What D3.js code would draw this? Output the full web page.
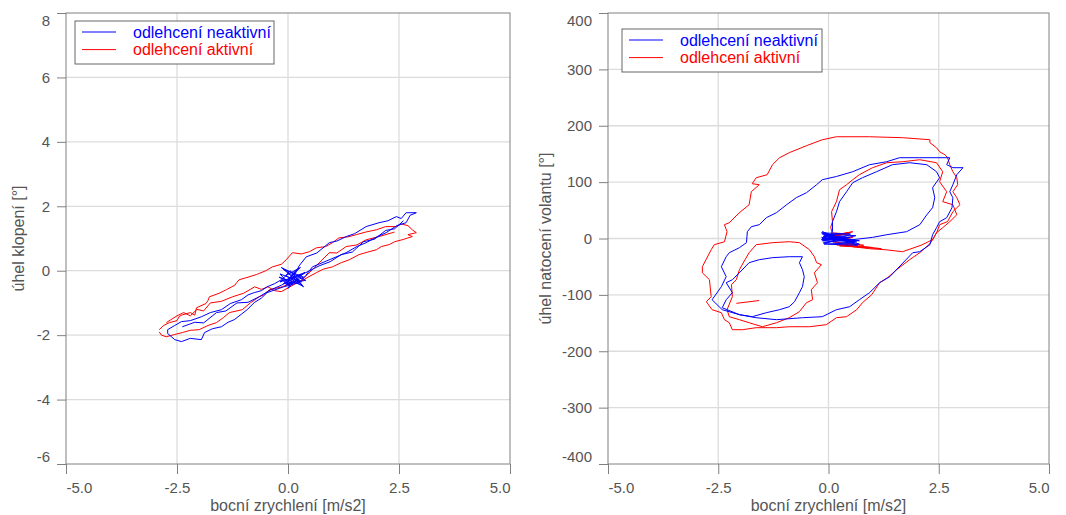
<!DOCTYPE html>
<html><head><meta charset="utf-8">
<script src="https://cdn.jsdelivr.net/npm/d3@7"></script>
<style>body{margin:0;background:#fff}svg{display:block}text{font-family:"Liberation Sans",Arial,sans-serif}</style>
</head><body><svg id="c" width="1066" height="515"></svg>
<script>
const xTicks=[-5,-2.5,0,2.5,5];
const rollTicks=[-6,-4,-2,0,2,4,6,8];
const steerTicks=[-400,-300,-200,-100,0,100,200,300,400];
const xTitle="bocní zrychlení [m/s2]";
const rollTitle="úhel klopení [°]";
const steerTitle="úhel natocení volantu [°]";
const seriesNames=["odlehcení neaktivní","odlehcení aktivní"];
const seriesColors=["#0000ff","#ff0000"];

// left: lateral acceleration vs roll angle
const rollActive=[[-2.90,-1.83],[-2.80,-1.70],[-2.67,-1.61],[-2.50,-1.55],[-2.45,-1.42],[-2.38,-1.37],[-2.20,-1.30],[-2.10,-1.38],[-2.06,-1.15],[-1.85,-1.02],[-1.80,-0.92],[-1.77,-0.81],[-1.55,-0.70],[-1.39,-0.59],[-1.20,-0.45],[-1.15,-0.36],[-1.10,-0.28],[-0.90,-0.20],[-0.71,-0.12],[-0.50,0.00],[-0.35,0.12],[-0.15,0.20],[-0.04,0.34],[0.10,0.56],[0.30,0.52],[0.48,0.59],[0.64,0.71],[0.85,0.75],[1.00,0.87],[1.15,1.02],[1.35,1.05],[1.54,1.12],[1.75,1.20],[1.99,1.27],[2.20,1.37],[2.44,1.37],[2.55,1.45],[2.70,1.40],[2.80,1.27],[2.89,1.18],[2.70,1.12],[2.80,1.06],[2.57,0.96],[2.40,0.90],[2.28,0.81],[2.10,0.75],[1.99,0.65],[1.80,0.58],[1.60,0.50],[1.38,0.34],[1.20,0.25],[1.00,0.12],[0.80,0.05],[0.64,-0.06],[0.45,-0.20],[0.25,-0.37],[0.05,-0.40],[-0.13,-0.50],[-0.42,-0.59],[-0.55,-0.75],[-0.65,-0.81],[-0.85,-1.00],[-1.03,-1.21],[-1.32,-1.30],[-1.45,-1.45],[-1.61,-1.61],[-1.80,-1.70],[-2.00,-1.83],[-2.20,-1.85],[-2.38,-1.92],[-2.55,-1.98],[-2.74,-2.05],[-2.85,-2.00],[-2.90,-1.90],
null,[-2.74,-1.61],[-2.50,-1.40],[-2.35,-1.30],[-2.20,-1.40],[-2.05,-1.20],[-1.90,-1.25],[-1.75,-1.00],[-1.50,-0.95],[-1.25,-0.81],[-1.00,-0.70],[-0.75,-0.50],[-0.60,-0.58],[-0.45,-0.50],[-0.30,-0.62],[-0.15,-0.65],[0.30,-0.30],[0.60,0.10],[0.93,0.56],[1.10,0.55],[1.31,0.75],[1.55,0.80],[1.76,0.96],[2.05,1.06],[2.40,1.20]];
const rollInactive=[[-2.71,-1.83],[-2.55,-1.70],[-2.40,-1.58],[-2.20,-1.55],[-1.95,-1.43],[-1.75,-1.30],[-1.50,-1.21],[-1.30,-1.02],[-1.05,-0.90],[-0.90,-0.75],[-0.76,-0.68],[-0.60,-0.62],[-0.47,-0.50],[-0.30,-0.40],[-0.15,-0.28],[0.05,-0.45],[-0.18,-0.10],[0.30,-0.35],[-0.10,0.05],[0.35,-0.20],[-0.05,-0.45],[0.20,0.05],[0.00,-0.30],[0.38,-0.05],[0.10,-0.40],[-0.20,-0.20],[0.32,-0.45],[-0.15,0.10],[0.40,-0.30],[-0.10,-0.40],[0.28,0.10],[-0.05,-0.15],[0.35,-0.50],[0.05,0.00],[-0.18,-0.35],[0.30,-0.10],[0.00,-0.55],[0.25,0.15],[0.41,0.43],[0.65,0.55],[0.93,0.87],[1.10,0.92],[1.31,1.06],[1.50,1.15],[1.76,1.37],[2.05,1.49],[2.25,1.55],[2.44,1.68],[2.55,1.62],[2.66,1.80],[2.89,1.80],[2.75,1.72],[2.66,1.49],[2.45,1.40],[2.21,1.18],[2.00,1.05],[1.76,0.87],[1.55,0.75],[1.31,0.56],[0.95,0.35],[0.55,0.12],[0.40,-0.15],[0.25,-0.37],[-0.10,-0.50],[-0.47,-0.68],[-0.60,-0.85],[-0.76,-0.99],[-0.92,-1.21],[-1.05,-1.35],[-1.21,-1.52],[-1.35,-1.60],[-1.50,-1.74],[-1.70,-1.80],[-1.88,-1.92],[-1.95,-2.14],[-2.20,-2.10],[-2.40,-2.20],[-2.55,-2.14],[-2.71,-1.95],[-2.71,-1.83],
null,[-2.38,-1.74],[-2.10,-1.60],[-1.90,-1.62],[-1.61,-1.30],[-1.40,-1.25],[-1.15,-1.00],[-0.90,-0.98],[-0.65,-0.81],[-0.40,-0.60],[-0.15,-0.45],[0.20,-0.20],[0.70,0.15],[0.95,0.28],[1.20,0.50],[1.45,0.58],[1.70,0.90],[1.95,0.98],[2.20,1.25],[2.40,1.30],[2.60,1.55]];

// right: lateral acceleration vs steering wheel angle
const steerActive=[[0.09,10],[0.45,8],[0.05,4],[0.55,12],[0.10,6],[0.48,10],[0.05,2],[0.55,2],[0.10,-6],[0.80,-12],[0.20,-10],[1.00,-16],[0.25,-13],[1.20,-18],[0.18,-11],[0.09,1.4],[0.09,6.7],[0.05,20],[0.09,29.8],[0.07,47.5],[0.18,65.3],[0.25,86.5],[0.41,95.4],[0.55,104.3],[0.70,113.2],[1.00,125.6],[1.32,134.4],[1.68,136.2],[2.07,139.7],[2.45,134.4],[2.59,118.5],[2.52,100.7],[2.68,83],[2.59,65.3],[2.82,59.9],[2.91,42.2],[2.75,29.8],[2.59,19.2],[2.45,10.3],[2.36,-2.1],[2.10,-12],[1.68,-23.4],[1.30,-20],[0.93,-18.1],[0.50,-14],[0.18,-11],
null,[2.36,-2.1],[2.45,10],[2.52,24.5],[2.70,30],[2.82,47.5],[2.98,59.9],[2.91,72.4],[2.82,83],[2.93,95.4],[2.91,107.8],[2.82,118.5],[2.75,130.9],[2.70,143.3],[2.64,148.6],[2.52,153.9],[2.45,161],[2.30,169.9],[2.30,175.2],[1.68,178.8],[0.93,180.5],[0.18,180.5],[-0.14,175.2],[-0.50,164.6],[-0.89,152.2],[-1.11,143.3],[-1.27,130.9],[-1.39,113.2],[-1.64,107.8],[-1.73,97.2],[-1.57,95.4],[-1.75,83],[-1.80,59.9],[-2.02,45.8],[-2.25,28],[-2.36,24.5],[-2.30,12.1],[-2.36,-5.7],[-2.59,-11],[-2.66,-19.9],[-2.86,-50],[-2.86,-60.7],[-2.70,-73.1],[-2.66,-103.2],[-2.77,-112.1],[-2.64,-126.3],[-2.43,-131.6],[-2.36,-144],[-2.25,-149.4],[-2.18,-161.8],[-1.95,-161.8],[-1.64,-158.2],[-1.18,-158.2],[-0.89,-156.5],[-0.43,-156.5],[-0.05,-152.9],[0.18,-140.5],[0.41,-138.7],[0.64,-126.3],[0.77,-113.9],[0.98,-99.7],[1.16,-78.4],[1.34,-69.5],[1.55,-55],[1.84,-37.6],[2.07,-25.2],[2.30,-9.2],[2.36,-2.1],
null,[-1.80,-25.2],[-1.64,-11],[-1.27,-7.4],[-0.89,-5.7],[-0.66,-7.4],[-0.43,-19.9],[-0.32,-32.3],[-0.27,-42.9],[-0.16,-46.5],[-0.32,-60.7],[-0.25,-78.4],[-0.39,-90.8],[-0.36,-108.6],[-0.50,-113.9],[-0.66,-129.8],[-0.89,-140.5],[-1.18,-149.4],[-1.50,-156.5],[-1.80,-149.4],[-2.02,-144],[-2.25,-138.7],[-2.30,-126.3],[-2.18,-103.2],[-2.20,-81.9],[-2.09,-73.1],[-2.02,-55.3],[-1.91,-40],[-1.80,-25.2],
null,[-2.09,-115],[-1.57,-110]];
const steerInactive=[[-0.16,2],[0.70,-4],[-0.14,0],[0.64,-6],[-0.12,4],[0.55,-2],[-0.16,-2],[0.48,2],[-0.10,6],[0.59,-8],[-0.14,-4],[0.40,0],[-0.14,8],[0.62,5],[-0.12,-8],[0.70,-10],[-0.16,10],[0.50,8],[-0.10,-10],[0.66,-12],[-0.14,12],[0.45,-6],[-0.14,1.4],[0.55,-2.1],[1.00,2],[1.32,6.7],[1.77,12.1],[2.07,24.5],[2.23,42.2],[2.36,54.6],[2.41,72.4],[2.36,90.1],[2.52,107.8],[2.45,118.5],[2.23,130.9],[1.84,134.4],[1.45,130.9],[1.09,118.5],[0.77,107.8],[0.55,99],[0.41,83],[0.25,65.3],[0.18,47.5],[0.09,29.8],[0.09,12.1],[0.02,1.4],
null,[-2.25,-25.2],[-2.02,-16.3],[-1.86,-7.4],[-1.84,12.1],[-1.75,20.9],[-1.57,24.5],[-1.41,36.9],[-1.18,45.8],[-0.95,59.9],[-0.73,72.4],[-0.50,81.2],[-0.27,95.4],[-0.14,104.3],[0.18,110],[0.55,118.5],[0.93,130.9],[1.32,136.2],[1.61,143.3],[2.07,143.3],[2.75,143.3],[2.68,130.9],[2.82,125.6],[3.05,125.6],[2.91,113.2],[2.82,95.4],[2.75,83],[2.82,72.4],[2.80,54.6],[2.68,36.9],[2.52,29.8],[2.45,19.2],[2.36,6.7],[2.30,-11],[2.07,-23.4],[1.91,-25.2],[1.39,-67.7],[1.16,-78.4],[0.93,-96.1],[0.70,-108.6],[0.48,-121],[0.18,-126.3],[-0.14,-138.7],[-0.59,-140.5],[-1.18,-144],[-1.64,-140.5],[-2.02,-135.1],[-2.41,-126.3],[-2.64,-108.6],[-2.43,-85.5],[-2.32,-67.7],[-2.43,-50],[-2.32,-32.3],[-2.25,-25.2],
null,[-1.80,-42.9],[-1.57,-37.6],[-1.27,-34],[-0.89,-32.3],[-0.59,-32.3],[-0.66,-42.9],[-0.59,-55.3],[-0.55,-67.7],[-0.59,-85.5],[-0.66,-96.1],[-0.77,-112.1],[-0.89,-121],[-1.11,-126.3],[-1.41,-131.6],[-1.73,-138.7],[-2.02,-135.1],[-2.41,-122.8],[-2.32,-108.6],[-2.18,-96.1],[-2.32,-78.4],[-2.18,-73.1],[-2.02,-60.7],[-1.80,-42.9]];

const svg=d3.select("#c");
const TOP=13, BOT=464;
const axisCol="#808080", textCol="#555";

function panel(p){
  const x=d3.scaleLinear().domain([xTicks[0],xTicks[xTicks.length-1]]).range([p.left,p.right]);
  const y=d3.scaleLinear().domain([p.yTicks[0],p.yTicks[p.yTicks.length-1]]).range([BOT,TOP]);
  const g=svg.append("g");
  g.selectAll("line.gx").data(xTicks.slice(1,-1)).join("line").attr("class","gx")
    .attr("x1",d=>x(d)).attr("x2",d=>x(d)).attr("y1",TOP).attr("y2",BOT)
    .attr("stroke","#dcdcdc").attr("stroke-width",1.3);
  g.selectAll("line.gy").data(p.yTicks.slice(1,-1)).join("line").attr("class","gy")
    .attr("x1",p.left).attr("x2",p.right).attr("y1",d=>y(d)).attr("y2",d=>y(d))
    .attr("stroke","#dcdcdc").attr("stroke-width",1.3);
  const line=d3.line().defined(d=>d).x(d=>x(d[0])).y(d=>y(d[1]));
  p.series.forEach(s=>{
    g.append("path").datum(s.data).attr("d",line).attr("fill","none")
      .attr("stroke",s.color).attr("stroke-width",1).attr("stroke-linejoin","miter");
  });
  g.append("rect").attr("x",p.left).attr("y",TOP).attr("width",p.right-p.left).attr("height",BOT-TOP)
    .attr("fill","none").attr("stroke",axisCol).attr("stroke-width",1);
  const ax=g.append("g").attr("transform",`translate(0,${BOT})`)
    .call(d3.axisBottom(x).tickValues(xTicks).tickFormat(d=>d.toFixed(1)).tickSize(10).tickSizeOuter(0));
  ax.select(".domain").remove();
  ax.selectAll(".tick line").attr("stroke",axisCol);
  ax.selectAll(".tick text").attr("fill",textCol).attr("font-size",15).attr("y",29).attr("dy",0)
    .attr("text-anchor",(d,i)=>i===0?"start":(i===xTicks.length-1?"end":"middle"));
  const ay=g.append("g").attr("transform",`translate(${p.left},0)`)
    .call(d3.axisLeft(y).tickValues(p.yTicks).tickFormat(d=>String(d)).tickSize(9).tickPadding(7).tickSizeOuter(0));
  ay.select(".domain").remove();
  ay.selectAll(".tick line").attr("stroke",axisCol);
  const n=p.yTicks.length;
  ay.selectAll(".tick text").attr("fill",textCol).attr("font-size",15)
    .attr("dy",(d,i)=>i===n-1?"0.85em":(i===0?"-0.18em":"0.32em"));
  g.append("text").attr("x",x(0)).attr("y",511).attr("text-anchor","middle")
    .attr("fill",textCol).attr("font-size",16).text(xTitle);
  g.append("text").attr("transform",`translate(${p.yTitleX},${(TOP+BOT)/2}) rotate(-90)`)
    .attr("text-anchor","middle").attr("fill",textCol).attr("font-size",16).text(p.yTitle);
  const L=p.legend;
  const lg=g.append("g");
  lg.append("rect").attr("x",L.x).attr("y",L.y).attr("width",L.w).attr("height",L.h)
    .attr("fill","#fff").attr("stroke","#666").attr("stroke-width",1);
  seriesNames.forEach((nm,i)=>{
    const yy=L.y+11+i*17.6;
    lg.append("line").attr("x1",L.x+7).attr("x2",L.x+41).attr("y1",yy).attr("y2",yy)
      .attr("stroke",seriesColors[i]).attr("stroke-width",1);
    lg.append("text").attr("x",L.x+58).attr("y",yy).attr("dy","0.35em").attr("font-size",16)
      .attr("fill",seriesColors[i]).text(nm);
  });
}

panel({left:66,right:510,yTicks:rollTicks,yTitle:rollTitle,yTitleX:24,
  series:[{data:rollActive,color:seriesColors[1]},{data:rollInactive,color:seriesColors[0]}],
  legend:{x:75,y:21,w:199,h:43}});
panel({left:608,right:1049,yTicks:steerTicks,yTitle:steerTitle,yTitleX:551,
  series:[{data:steerActive,color:seriesColors[1]},{data:steerInactive,color:seriesColors[0]}],
  legend:{x:622,y:29,w:200,h:43}});
</script></body></html>
